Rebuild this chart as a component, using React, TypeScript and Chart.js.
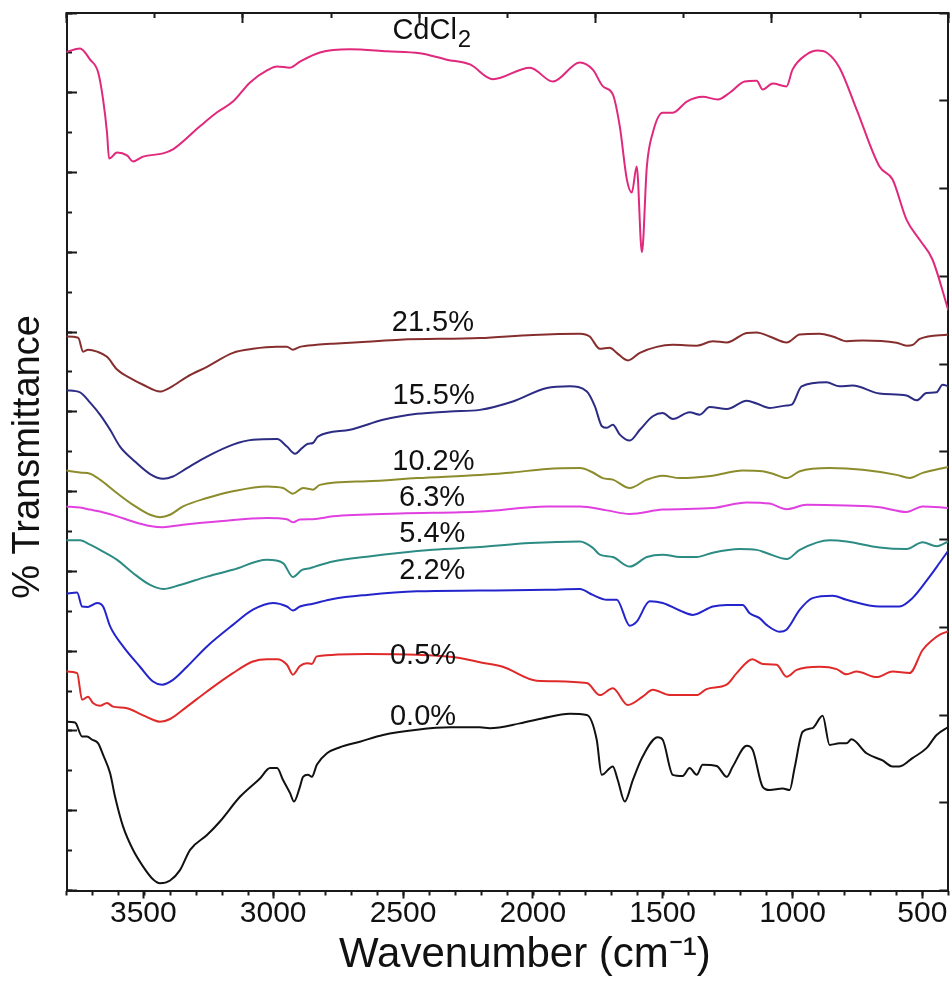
import { useEffect, useRef } from 'react';
import { Chart, registerables } from 'chart.js';

Chart.register(...registerables);

// ---------- data (wavenumber cm^-1, transmittance offset units) ----------
const xTickLabels = [3500, 3000, 2500, 2000, 1500, 1000, 500];

const seriesNames = ['CdCl2', '21.5%', '15.5%', '10.2%', '6.3%', '5.4%', '2.2%', '0.5%', '0.0%'];

const cdcl2: [number, number][] = [
  [3798, 21.02], [3744, 21.11], [3705, 20.83], [3674, 20.51], [3655, 19.83], [3640, 19.0], [3632, 18.35],
  [3601, 18.5], [3563, 18.43], [3540, 18.28], [3501, 18.4], [3424, 18.48], [3386, 18.58], [3282, 19.16],
  [3216, 19.51], [3155, 19.78], [3089, 20.26], [3024, 20.56], [2985, 20.66], [2935, 20.63], [2897, 20.78],
  [2820, 21.01], [2704, 21.09], [2562, 21.04], [2435, 20.99], [2331, 20.83], [2242, 20.71], [2154, 20.34],
  [2011, 20.63], [1923, 20.28], [1819, 20.76], [1769, 20.58], [1730, 20.16], [1692, 19.96], [1665, 19.15],
  [1638, 17.83], [1619, 17.5], [1600, 18.15], [1580, 16.0], [1561, 18.15], [1538, 19.0], [1500, 19.5],
  [1461, 19.5], [1407, 19.78], [1346, 19.9], [1288, 19.83], [1242, 20.0], [1184, 20.28], [1138, 20.3],
  [1115, 20.08], [1076, 20.23], [1023, 20.16], [1000, 20.58], [946, 20.96], [903, 21.06], [869, 21.01],
  [819, 20.63], [753, 19.58], [665, 18.15], [615, 17.83], [561, 16.82], [511, 16.32], [461, 15.82], [400, 14.55],
];

const s215: [number, number][] = [
  [3798, 13.89], [3751, 13.86], [3732, 13.51], [3713, 13.56], [3678, 13.51], [3640, 13.38], [3601, 13.06],
  [3540, 12.81], [3501, 12.68], [3436, 12.51], [3397, 12.61], [3332, 12.88], [3255, 13.13], [3155, 13.48],
  [3078, 13.58], [2985, 13.63], [2947, 13.63], [2924, 13.56], [2897, 13.63], [2832, 13.68], [2770, 13.71],
  [2639, 13.76], [2512, 13.81], [2204, 13.85], [2000, 13.93], [1819, 13.96], [1781, 13.89], [1742, 13.58],
  [1704, 13.61], [1677, 13.48], [1634, 13.29], [1588, 13.48], [1523, 13.63], [1461, 13.68], [1369, 13.66],
  [1307, 13.77], [1253, 13.74], [1176, 13.98], [1138, 13.99], [1088, 13.89], [1022, 13.74], [972, 13.94],
  [895, 13.96], [845, 13.89], [791, 13.77], [730, 13.79], [599, 13.73], [560, 13.66], [537, 13.68],
  [510, 13.83], [400, 13.94],
];

const s155: [number, number][] = [
  [3798, 12.54], [3744, 12.49], [3705, 12.23], [3667, 11.93], [3628, 11.55], [3590, 11.13], [3540, 10.8],
  [3474, 10.44], [3424, 10.32], [3386, 10.38], [3332, 10.59], [3255, 10.88], [3155, 11.18], [3078, 11.3],
  [2985, 11.32], [2947, 11.13], [2916, 10.95], [2889, 11.09], [2866, 11.2], [2847, 11.22], [2828, 11.38],
  [2704, 11.55], [2577, 11.8], [2446, 11.95], [2319, 12.01], [2204, 12.05], [2077, 12.26], [1946, 12.6],
  [1858, 12.64], [1792, 12.51], [1761, 12.14], [1734, 11.64], [1715, 11.6], [1692, 11.68], [1665, 11.43],
  [1627, 11.28], [1588, 11.55], [1538, 11.89], [1500, 11.97], [1461, 11.82], [1396, 11.99], [1357, 11.93],
  [1319, 12.12], [1253, 12.07], [1176, 12.28], [1138, 12.21], [1088, 12.1], [1022, 12.16], [1003, 12.18],
  [965, 12.64], [869, 12.74], [819, 12.64], [769, 12.66], [665, 12.46], [561, 12.41], [522, 12.29],
  [484, 12.47], [445, 12.49], [422, 12.68], [400, 12.64],
];

const s102: [number, number][] = [
  [3798, 10.53], [3744, 10.48], [3705, 10.45], [3667, 10.3], [3601, 9.96], [3540, 9.67], [3474, 9.42],
  [3436, 9.36], [3397, 9.42], [3347, 9.63], [3255, 9.84], [3155, 10.01], [3024, 10.13], [2962, 10.09],
  [2924, 9.95], [2885, 10.09], [2847, 10.05], [2820, 10.17], [2639, 10.26], [2446, 10.34], [2204, 10.42],
  [2077, 10.48], [1946, 10.57], [1819, 10.59], [1769, 10.48], [1731, 10.34], [1692, 10.3], [1627, 10.09],
  [1561, 10.3], [1500, 10.4], [1434, 10.34], [1307, 10.4], [1192, 10.53], [1115, 10.51], [1076, 10.45],
  [1022, 10.34], [972, 10.51], [857, 10.59], [730, 10.55], [599, 10.42], [549, 10.34], [499, 10.47],
  [400, 10.62],
];

const s63: [number, number][] = [
  [3798, 9.63], [3744, 9.6], [3705, 9.55], [3667, 9.5], [3601, 9.38], [3540, 9.25], [3474, 9.14],
  [3424, 9.11], [3347, 9.17], [3216, 9.25], [3024, 9.34], [2947, 9.31], [2924, 9.23], [2897, 9.3],
  [2847, 9.31], [2770, 9.38], [2512, 9.45], [2204, 9.5], [1946, 9.63], [1819, 9.63], [1715, 9.53],
  [1627, 9.44], [1500, 9.55], [1307, 9.59], [1176, 9.73], [1088, 9.7], [1022, 9.56], [946, 9.67],
  [792, 9.65], [665, 9.61], [561, 9.49], [499, 9.63], [400, 9.59],
];

const s54: [number, number][] = [
  [3798, 8.78], [3744, 8.78], [3705, 8.67], [3667, 8.54], [3601, 8.29], [3540, 7.96], [3474, 7.66],
  [3424, 7.56], [3359, 7.66], [3255, 7.87], [3155, 8.04], [3024, 8.29], [2962, 8.21], [2924, 7.86],
  [2889, 8.04], [2858, 8.08], [2839, 8.12], [2770, 8.25], [2639, 8.37], [2385, 8.54], [2204, 8.61],
  [2011, 8.71], [1819, 8.75], [1769, 8.59], [1742, 8.42], [1692, 8.36], [1627, 8.12], [1561, 8.36],
  [1500, 8.42], [1434, 8.36], [1369, 8.36], [1307, 8.47], [1204, 8.56], [1138, 8.54], [1100, 8.46],
  [1022, 8.31], [972, 8.54], [857, 8.78], [792, 8.75], [665, 8.6], [561, 8.56], [499, 8.73], [445, 8.63],
  [400, 8.75],
];

const s22: [number, number][] = [
  [3798, 7.44], [3755, 7.47], [3736, 7.12], [3713, 7.11], [3678, 7.21], [3655, 7.12], [3628, 6.62],
  [3578, 6.12], [3513, 5.61], [3463, 5.24], [3428, 5.16], [3386, 5.28], [3332, 5.61], [3255, 6.12],
  [3155, 6.66], [3078, 7.04], [3001, 7.21], [2947, 7.12], [2924, 7.02], [2897, 7.12], [2847, 7.19],
  [2770, 7.31], [2639, 7.41], [2446, 7.5], [2204, 7.52], [1946, 7.54], [1819, 7.56], [1769, 7.41],
  [1715, 7.29], [1677, 7.29], [1627, 6.64], [1600, 6.74], [1550, 7.25], [1500, 7.21], [1434, 7.02],
  [1384, 6.91], [1307, 7.12], [1253, 7.16], [1192, 7.16], [1165, 6.95], [1127, 6.83], [1100, 6.66],
  [1050, 6.49], [1023, 6.54], [972, 7.04], [923, 7.33], [845, 7.39], [792, 7.29], [665, 7.12],
  [588, 7.12], [538, 7.33], [472, 7.87], [434, 8.21], [400, 8.52],
];

const s05: [number, number][] = [
  [3798, 5.49], [3755, 5.45], [3736, 4.78], [3713, 4.86], [3694, 4.7], [3667, 4.63], [3640, 4.7],
  [3617, 4.61], [3563, 4.57], [3513, 4.43], [3463, 4.28], [3436, 4.23], [3397, 4.3], [3332, 4.61],
  [3255, 4.99], [3155, 5.45], [3078, 5.74], [3024, 5.8], [2985, 5.8], [2947, 5.66], [2924, 5.41],
  [2897, 5.63], [2870, 5.7], [2851, 5.68], [2832, 5.87], [2639, 5.93], [2446, 5.91], [2281, 5.83],
  [2204, 5.72], [2116, 5.61], [1985, 5.26], [1792, 5.2], [1742, 4.9], [1692, 5.07], [1634, 4.65],
  [1577, 4.86], [1538, 5.03], [1473, 4.9], [1369, 4.9], [1331, 5.05], [1254, 5.16], [1215, 5.45],
  [1154, 5.8], [1115, 5.68], [1061, 5.66], [1023, 5.36], [984, 5.53], [895, 5.61], [830, 5.55],
  [792, 5.42], [753, 5.49], [676, 5.35], [615, 5.49], [549, 5.45], [499, 6.03], [461, 6.28], [434, 6.41],
  [400, 6.5],
];

const s00: [number, number][] = [
  [3798, 4.23], [3763, 4.21], [3736, 3.86], [3717, 3.86], [3697, 3.78], [3674, 3.69], [3655, 3.4],
  [3628, 2.94], [3609, 2.35], [3578, 1.6], [3540, 1.02], [3501, 0.6], [3463, 0.28], [3436, 0.18],
  [3397, 0.25], [3359, 0.51], [3320, 1.02], [3255, 1.39], [3205, 1.73], [3128, 2.35], [3051, 2.81],
  [3012, 3.07], [2985, 3.07], [2962, 2.77], [2935, 2.44], [2920, 2.23], [2897, 2.6], [2885, 2.85],
  [2866, 2.9], [2851, 2.85], [2832, 3.15], [2793, 3.44], [2743, 3.59], [2666, 3.73], [2577, 3.9],
  [2446, 4.03], [2319, 4.09], [2204, 4.09], [2166, 4.07], [2050, 4.19], [1961, 4.32], [1858, 4.43],
  [1792, 4.4], [1754, 3.78], [1735, 2.9], [1692, 3.11], [1673, 2.77], [1646, 2.23], [1615, 2.77],
  [1577, 3.36], [1519, 3.84], [1500, 3.78], [1461, 2.9], [1423, 2.87], [1396, 3.07], [1369, 2.9],
  [1346, 3.15], [1292, 3.12], [1253, 2.85], [1230, 3.11], [1176, 3.63], [1153, 3.52], [1115, 2.6],
  [1088, 2.52], [1038, 2.56], [1011, 2.52], [992, 3.07], [961, 3.98], [923, 4.07], [884, 4.38],
  [857, 3.65], [819, 3.69], [792, 3.69], [773, 3.79], [715, 3.44], [653, 3.26], [615, 3.11], [588, 3.11],
  [538, 3.32], [484, 3.57], [445, 3.9], [400, 4.1],
];

const seriesData = [cdcl2, s215, s155, s102, s63, s54, s22, s05, s00];
const seriesColors = ['#e0287c', '#862e2e', '#2c2c84', '#8c8c2c', '#e040e0', '#2c8c84', '#2424cc', '#e02a2a', '#111111'];

// ---------- curve labels (anchor in data units: centre wavenumber, baseline value) ----------
const labelAnchors = [
  { text: 'CdCl', sub: '2', wn: 2391, t: 21.36 },
  { text: '21.5%', wn: 2385, t: 14.02 },
  { text: '15.5%', wn: 2382, t: 12.2 },
  { text: '10.2%', wn: 2383, t: 10.55 },
  { text: '6.3%', wn: 2388, t: 9.65 },
  { text: '5.4%', wn: 2387, t: 8.73 },
  { text: '2.2%', wn: 2387, t: 7.81 },
  { text: '0.5%', wn: 2423, t: 5.68 },
  { text: '0.0%', wn: 2423, t: 4.15 },
];

const FONT = "'Liberation Sans', Arial, Helvetica, sans-serif";
const AXIS_COLOR = '#1a1a1a';

const curveLabelPlugin = {
  id: 'curveLabels',
  afterDatasetsDraw(chart: any) {
    const { ctx, scales } = chart;
    const xs = scales.x;
    const ys = scales.y;
    ctx.save();
    ctx.fillStyle = '#111';
    ctx.textBaseline = 'alphabetic';
    ctx.textAlign = 'left';
    for (const a of labelAnchors) {
      const cx = xs.getPixelForValue(a.wn);
      const by = ys.getPixelForValue(a.t);
      ctx.font = `29px ${FONT}`;
      const w1 = ctx.measureText(a.text).width;
      let w2 = 0;
      if (a.sub) {
        ctx.font = `24px ${FONT}`;
        w2 = ctx.measureText(a.sub).width;
      }
      const left = cx - (w1 + w2) / 2;
      ctx.font = `29px ${FONT}`;
      ctx.fillText(a.text, left, by);
      if (a.sub) {
        ctx.font = `24px ${FONT}`;
        ctx.fillText(a.sub, left + w1 + 1, by + 8);
      }
    }
    ctx.restore();
  },
};

export default function App() {
  const canvasRef = useRef<HTMLCanvasElement | null>(null);

  useEffect(() => {
    if (!canvasRef.current) return;
    Chart.defaults.font.family = FONT;

    const datasets = seriesData.map((pts, i) => ({
      label: seriesNames[i],
      data: pts.map(([x, y]) => ({ x, y })),
      borderColor: seriesColors[i],
      backgroundColor: seriesColors[i],
      borderWidth: 2,
      pointRadius: 0,
      fill: false,
      cubicInterpolationMode: 'monotone' as const,
      xAxisID: 'x',
      yAxisID: 'y',
    }));

    const hiddenLabel = () => '';

    const chart = new Chart(canvasRef.current, {
      type: 'line',
      data: { datasets },
      plugins: [curveLabelPlugin],
      options: {
        responsive: false,
        animation: false,
        events: [],
        layout: { padding: 0, autoPadding: false },
        plugins: { legend: { display: false }, tooltip: { enabled: false } },
        scales: {
          x: {
            type: 'linear',
            position: 'bottom',
            reverse: true,
            bounds: 'data',
            min: 400,
            max: 3796,
            weight: 1,
            afterBuildTicks: (s: any) => {
              s.ticks = xTickLabels.map((value) => ({ value }));
            },
            ticks: {
              autoSkip: false,
              maxRotation: 0,
              minRotation: 0,
              color: '#111',
              padding: 0,
              font: { size: 30, family: FONT, lineHeight: 1 },
              callback: (v: any) => String(v),
            },
            grid: {
              drawOnChartArea: false,
              drawTicks: true,
              tickLength: 8,
              tickWidth: 2,
              tickColor: AXIS_COLOR,
            },
            border: { display: true, color: AXIS_COLOR, width: 2 },
            title: {
              display: true,
              text: '   Wavenumber (cm\u207B\u00B9)',
              color: '#111',
              font: { size: 42, family: FONT },
              padding: { top: 0, bottom: 2.4 },
            },
            afterFit: (s: any) => {
              s.height = 92.5;
            },
          },
          xMinor: {
            type: 'linear',
            position: 'bottom',
            reverse: true,
            min: 400,
            max: 3796,
            weight: 0,
            ticks: { stepSize: 100, autoSkip: false, maxRotation: 0, callback: hiddenLabel },
            grid: { drawOnChartArea: false, tickLength: 5, tickWidth: 2, tickColor: AXIS_COLOR },
            border: { display: false },
            afterFit: (s: any) => {
              s.height = 0;
            },
          },
          xTop: {
            type: 'linear',
            position: 'top',
            min: 0,
            max: 10,
            weight: 1,
            ticks: { stepSize: 2, autoSkip: false, maxRotation: 0, callback: hiddenLabel },
            grid: { drawOnChartArea: false, tickLength: -10, tickWidth: 2, tickColor: AXIS_COLOR },
            border: { display: true, color: AXIS_COLOR, width: 2 },
            afterFit: (s: any) => {
              s.height = 13;
            },
          },
          xTopMinor: {
            type: 'linear',
            position: 'top',
            min: 0,
            max: 10,
            weight: 0,
            ticks: { stepSize: 1, autoSkip: false, maxRotation: 0, callback: hiddenLabel },
            grid: { drawOnChartArea: false, tickLength: -5, tickWidth: 2, tickColor: AXIS_COLOR },
            border: { display: false },
            afterFit: (s: any) => {
              s.height = 0;
            },
          },
          y: {
            type: 'linear',
            position: 'left',
            min: 0,
            max: 22,
            weight: 1,
            ticks: { stepSize: 2, autoSkip: false, callback: hiddenLabel },
            grid: { drawOnChartArea: false, tickLength: -10.5, tickWidth: 2, tickColor: AXIS_COLOR },
            border: { display: true, color: AXIS_COLOR, width: 2 },
            title: {
              display: true,
              text: '% Transmittance ',
              color: '#111',
              font: { size: 38, family: FONT },
              padding: { top: 5.7, bottom: 0 },
            },
            afterFit: (s: any) => {
              s.width = 66.5;
            },
          },
          yMinor: {
            type: 'linear',
            position: 'left',
            min: 0,
            max: 22,
            weight: 0,
            ticks: { stepSize: 1, autoSkip: false, callback: hiddenLabel },
            grid: { drawOnChartArea: false, tickLength: -5.5, tickWidth: 2, tickColor: AXIS_COLOR },
            border: { display: false },
            afterFit: (s: any) => {
              s.width = 0;
            },
          },
          yRight: {
            type: 'linear',
            position: 'right',
            min: 0,
            max: 10,
            ticks: { stepSize: 1, autoSkip: false, callback: hiddenLabel },
            grid: { drawOnChartArea: false, tickLength: -9, tickWidth: 2, tickColor: AXIS_COLOR },
            border: { display: true, color: AXIS_COLOR, width: 2 },
            afterFit: (s: any) => {
              s.width = 3.7;
            },
          },
        },
      } as any,
    });

    return () => {
      chart.destroy();
    };
  }, []);

  return (
    <div style={{ position: 'absolute', left: 0, top: 0, width: 952, height: 983, background: '#ffffff' }}>
      <canvas ref={canvasRef} width={952} height={983} style={{ display: 'block', width: 952, height: 983 }} />
    </div>
  );
}
